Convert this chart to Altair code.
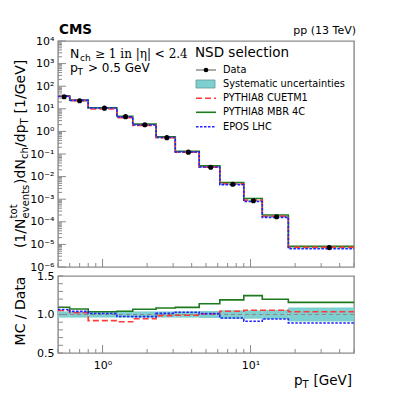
import altair as alt
import pandas as pd

F = "DejaVu Sans"
FS = "DejaVu Serif"

# ---------------- data ----------------
pt_edges = [0.5, 0.6, 0.8, 1.25, 1.6, 2.3, 3.1, 4.5, 6.2, 9.0, 12.0, 18.0, 50.0]
data_pt = [0.55, 0.70, 1.03, 1.43, 1.93, 2.72, 3.80, 5.38, 7.58, 10.45, 15.0, 34.0]
data_val = [34.0, 22.6, 10.7, 4.5, 1.96, 0.53, 0.121, 0.0261, 0.00461, 8.6e-4, 1.67e-4, 7.2e-6]
syst_unc = [0.04, 0.04, 0.04, 0.04, 0.04, 0.04, 0.04, 0.045, 0.055, 0.055, 0.06, 0.09]
ratio_cuetm1 = [1.052, 1.022, 0.920, 0.905, 0.944, 0.985, 0.990, 1.009, 1.043, 1.056, 1.056, 1.035]
ratio_mbr = [1.095, 1.072, 1.035, 1.043, 1.068, 1.085, 1.093, 1.140, 1.190, 1.245, 1.198, 1.158]
ratio_epos = [1.065, 1.040, 1.013, 0.974, 0.972, 1.015, 1.030, 1.012, 0.955, 0.913, 0.941, 0.890]

y_major = [1e-6, 1e-5, 1e-4, 1e-3, 1e-2, 1e-1, 1, 10, 100, 1000, 10000]
x_major = [1, 10]
x_minor = [0.5, 0.6, 0.7, 0.8, 0.9, 2, 3, 4, 5, 6, 7, 8, 9, 20, 30, 40, 50]
r_ticks = [0.5, 0.6, 0.7, 0.8, 0.9, 1.0, 1.1, 1.2, 1.3, 1.4, 1.5]
r_labels = [0.5, 1.0, 1.5]

legend_title = "NSD selection"
legend_labels = ["Data", "Systematic uncertainties", "PYTHIA8 CUETM1", "PYTHIA8 MBR 4C", "EPOS LHC"]

C_RED = "#ff3a3a"
C_GREEN = "#1e7a1e"
C_BLUE = "#2020ff"
C_TEAL = "#7ecfcf"
C_AX = "#8a8a8a"

W, H1, H2 = 296, 226, 77

SUP = {'0': '⁰', '1': '¹', '2': '²', '3': '³', '4': '⁴', '5': '⁵', '6': '⁶',
       '7': '⁷', '8': '⁸', '9': '⁹', '-': '⁻'}


def pow_expr(exps):
    s = ""
    for e in exps:
        lab = "10" + "".join(SUP[c] for c in str(e))
        s += f"round(log(datum.value)/LN10) == {e} ? '{lab}' : "
    return s + "''"


xs = alt.Scale(type="log", domain=[0.5, 50], nice=False)
ys1 = alt.Scale(type="log", domain=[1e-6, 1e4], nice=False)
ys2 = alt.Scale(domain=[0.5, 1.5], nice=False, zero=False)

xa1 = alt.Axis(labels=False, ticks=False, domain=False, grid=False, title="")
ya1 = alt.Axis(values=y_major, labelExpr=pow_expr(range(-6, 5)), ticks=False, domain=False,
               grid=False, title="", labelFontSize=11, labelFont=F, labelColor="black",
               labelPadding=4, labelOverlap=False)
xa2 = alt.Axis(values=x_major, labelExpr=pow_expr([0, 1]), ticks=False, domain=False, grid=False,
               title="", labelFontSize=11, labelFont=F, labelColor="black", labelPadding=6,
               labelOverlap=False, labelFlush=False)
ya2 = alt.Axis(values=r_labels, format=".1f", ticks=False, domain=False, grid=False, title="",
               labelFontSize=11, labelFont=F, labelColor="black", labelPadding=4, labelOverlap=False)

ONE = pd.DataFrame({"k": [0]})


def txt(s, x, y, size, font=F, angle=0, align="left", baseline="alphabetic", weight="normal"):
    return alt.Chart(ONE).mark_text(text=s, fontSize=size, font=font, angle=angle, align=align,
                                    baseline=baseline, fontWeight=weight, color="black").encode(
        x=alt.value(x), y=alt.value(y))


def step_df(vals):
    return pd.DataFrame({"x": pt_edges, "y": list(vals) + [vals[-1]]})


def band_df(center):
    return pd.DataFrame({"lo": pt_edges[:-1], "hi": pt_edges[1:],
                         "ylo": [c * (1 - u) for c, u in zip(center, syst_unc)],
                         "yhi": [c * (1 + u) for c, u in zip(center, syst_unc)]})


def lines(xaxis, scale_y, axis_y, vals_list):
    out = []
    styles = [(C_GREEN, None), (C_RED, [6, 3]), (C_BLUE, [2.5, 1.5])]
    for vals, (col, dash) in zip(vals_list, styles):
        kw = dict(interpolate="step-after", color=col, strokeWidth=1.6)
        if dash:
            kw["strokeDash"] = dash
        out.append(alt.Chart(step_df(vals)).mark_line(**kw).encode(
            x=alt.X("x:Q", scale=xs, axis=xaxis), y=alt.Y("y:Q", scale=scale_y, axis=axis_y)))
    return out


def ticks_x(axis, h):
    maj = alt.Chart(pd.DataFrame({"v": x_major})).mark_rule(color=C_AX, strokeWidth=1).encode(
        x=alt.X("v:Q", scale=xs, axis=axis), y=alt.value(h), y2=alt.value(h - 8))
    mnr = alt.Chart(pd.DataFrame({"v": x_minor})).mark_rule(color=C_AX, strokeWidth=1).encode(
        x=alt.X("v:Q", scale=xs, axis=axis), y=alt.value(h), y2=alt.value(h - 4))
    return [maj, mnr]


# ---------------- upper panel ----------------
mc_cuetm1 = [d * r for d, r in zip(data_val, ratio_cuetm1)]
mc_mbr = [d * r for d, r in zip(data_val, ratio_mbr)]
mc_epos = [d * r for d, r in zip(data_val, ratio_epos)]

y_minor = [m * 10.0 ** e for e in range(-6, 4) for m in range(2, 10)]

up = []
up.append(alt.Chart(band_df(data_val)).mark_rect(color=C_TEAL).encode(
    x=alt.X("lo:Q", scale=xs, axis=xa1), x2="hi",
    y=alt.Y("ylo:Q", scale=ys1, axis=ya1), y2="yhi"))
up += lines(xa1, ys1, ya1, [mc_mbr, mc_cuetm1, mc_epos])
up.append(alt.Chart(pd.DataFrame({"x": data_pt, "y": data_val})).mark_circle(
    size=26, color="black", opacity=1).encode(
    x=alt.X("x:Q", scale=xs, axis=xa1), y=alt.Y("y:Q", scale=ys1, axis=ya1)))
up += ticks_x(xa1, H1)
up.append(alt.Chart(pd.DataFrame({"v": y_major})).mark_rule(color=C_AX, strokeWidth=1).encode(
    y=alt.Y("v:Q", scale=ys1, axis=ya1), x=alt.value(0), x2=alt.value(8)))
up.append(alt.Chart(pd.DataFrame({"v": y_minor})).mark_rule(color=C_AX, strokeWidth=1).encode(
    y=alt.Y("v:Q", scale=ys1, axis=ya1), x=alt.value(0), x2=alt.value(4)))

# titles above plot
up.append(txt("CMS", 1, -7, 13.5, weight="bold"))
up.append(txt("pp (13 TeV)", 298, -7, 11, align="right"))

# annotation
up.append(txt("N", 12, 17, 12.5))
up.append(txt("ch", 22, 20, 9))
up.append(txt("≥ 1 in |η| < 2.4", 37, 17, 12, font=FS))
up.append(txt("p", 12, 31, 12.5))
up.append(txt("T", 19.5, 34, 9))
up.append(txt("> 0.5 GeV", 30, 31, 12))

# y title (pieces, rotated)
xb = -33
y0 = 207
pieces = [("(1/N", 14, 0, 29.6), ("events", 10, 4, 34.5), (")dN", 14, 0, 24.8), ("ch", 10, 3, 12.2),
          ("/dp", 14, 0, 22.5), ("T", 10, 3, 11), ("[1/GeV]", 14, 0, 0)]
cur = y0
for s, size, shift, adv in pieces:
    up.append(txt(s, xb + shift, cur, size, angle=270))
    if s == "events":
        up.append(txt("tot", xb - 8, cur, 10, angle=270))
    cur -= adv

# legend
lx0, lx1, lxm, ltx = 138, 158, 148, 165
rows = [29, 43, 57.3, 71.3, 85.7]
up.append(txt(legend_title, 137, 12, 13.5, baseline="middle"))
for lab, ry in zip(legend_labels, rows):
    up.append(txt(lab, ltx, ry, 9.8, baseline="middle"))
up.append(alt.Chart(ONE).mark_rule(color="#555", strokeWidth=1).encode(
    x=alt.value(lx0), x2=alt.value(lx1), y=alt.value(rows[0])))
up.append(alt.Chart(ONE).mark_circle(size=22, color="black", opacity=1).encode(
    x=alt.value(lxm), y=alt.value(rows[0])))
up.append(alt.Chart(ONE).mark_rect(color=C_TEAL, stroke="#5f9a9a", strokeWidth=0.8).encode(
    x=alt.value(lx0), x2=alt.value(lx1 - 1), y=alt.value(rows[1] - 4), y2=alt.value(rows[1] + 4)))
for ry, col, dash in [(rows[2], C_RED, [6, 3]), (rows[3], C_GREEN, None), (rows[4], C_BLUE, [2.5, 1.5])]:
    kw = dict(color=col, strokeWidth=1.6)
    if dash:
        kw["strokeDash"] = dash
    up.append(alt.Chart(ONE).mark_rule(**kw).encode(
        x=alt.value(lx0), x2=alt.value(lx1), y=alt.value(ry)))

upper = alt.layer(*up).properties(width=W, height=H1)

# ---------------- lower panel ----------------
lo = []
lo.append(alt.Chart(band_df([1.0] * len(syst_unc))).mark_rect(color=C_TEAL).encode(
    x=alt.X("lo:Q", scale=xs, axis=xa2), x2="hi",
    y=alt.Y("ylo:Q", scale=ys2, axis=ya2), y2="yhi"))
lo.append(alt.Chart(ONE).mark_rule(color="#8c8c8c", strokeWidth=1, strokeDash=[4, 3]).encode(
    y=alt.datum(1.0, scale=ys2, axis=ya2)))
lo += lines(xa2, ys2, ya2, [ratio_mbr, ratio_cuetm1, ratio_epos])
lo += ticks_x(xa2, H2)
lo.append(alt.Chart(pd.DataFrame({"v": r_ticks})).mark_rule(color=C_AX, strokeWidth=1).encode(
    y=alt.Y("v:Q", scale=ys2, axis=ya2), x=alt.value(0), x2=alt.value(5)))
lo.append(txt("MC / Data", -33, 35, 14, angle=270, align="center"))
lo.append(txt("p", 236, 109, 13.5))
lo.append(txt("T", 244.5, 112, 10))
lo.append(txt("[GeV]", 294, 109, 13.5, align="right"))

lower = alt.layer(*lo).properties(width=W, height=H2)

chart = alt.vconcat(upper, lower, spacing=9, bounds="flush").properties(
    padding={"left": 0, "top": 14, "right": 4, "bottom": 2}
).configure_view(stroke=C_AX, strokeWidth=1.4)

chart.save("out.html", embed_options={"renderer": "svg", "actions": False})
